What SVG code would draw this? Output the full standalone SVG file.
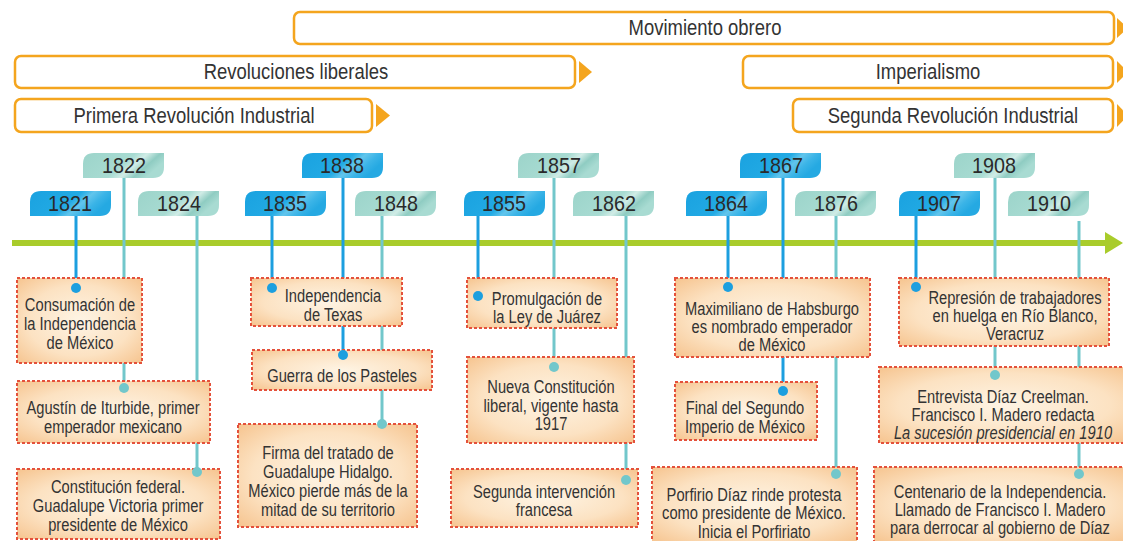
<svg xmlns="http://www.w3.org/2000/svg" width="1123" height="541" viewBox="0 0 1123 541">
<defs>
<style>
text{font-family:"Liberation Sans",Arial,sans-serif;fill:#333;text-anchor:middle;transform-box:fill-box;transform-origin:center;transform:scaleX(0.84)}
.bar{fill:#fff;stroke:#F4A51E;stroke-width:2.5}
.barr{fill:#F4A51E}
.bt{font-size:22px}
.ft{font-size:21.5px;fill:#2a2a2a;transform:scaleX(0.92)}
.tx{font-size:17.5px}
.box{fill:url(#boxg);stroke:#E4513B;stroke-width:2;stroke-dasharray:3 2}
.sb{stroke:#1C9FDF;stroke-width:3;fill:none}
.st{stroke:#72C7CB;stroke-width:3;fill:none}
.db{fill:#1C9FDF}
.dt{fill:#72C7CB}
.fb{fill:url(#gb)}
.fl{fill:url(#gt)}
</style>
<radialGradient id="boxg" cx="50%" cy="50%" r="70%">
<stop offset="0" stop-color="#FEF4E4"/>
<stop offset="0.6" stop-color="#FCE2C2"/>
<stop offset="1" stop-color="#F6C48F"/>
</radialGradient>
<linearGradient id="gb" x1="0" y1="0" x2="1" y2="0.35">
<stop offset="0" stop-color="#1AA2E0"/>
<stop offset="0.58" stop-color="#22AAE4"/>
<stop offset="0.72" stop-color="#62C5EC"/>
<stop offset="0.86" stop-color="#3BB4E7"/>
<stop offset="1" stop-color="#25A9E2"/>
</linearGradient>
<linearGradient id="gt" x1="0" y1="0" x2="1" y2="0.35">
<stop offset="0" stop-color="#9CD4CA"/>
<stop offset="0.58" stop-color="#A8DBD2"/>
<stop offset="0.72" stop-color="#D0ECE6"/>
<stop offset="0.86" stop-color="#8FCCC2"/>
<stop offset="1" stop-color="#A8DBD2"/>
</linearGradient>
<path id="flag" d="M11 0H81V14Q81 25 70 25H0V11Q0 0 11 0Z"/>
</defs>

<g id="periods">
<g id="p-movimiento">
<rect class="bar" x="294" y="12" width="820" height="32" rx="6"/>
<polygon class="barr" points="1117,18 1128,28 1117,38"/>
<text class="bt" x="705" y="35">Movimiento obrero</text>
</g>
<g id="p-revoluciones">
<rect class="bar" x="15" y="56" width="560" height="32" rx="6"/>
<polygon class="barr" points="579,61 592,72 579,83"/>
<text class="bt" x="296" y="79">Revoluciones liberales</text>
</g>
<g id="p-imperialismo">
<rect class="bar" x="743" y="56" width="370" height="32" rx="6"/>
<polygon class="barr" points="1117,61 1128,72 1117,83"/>
<text class="bt" x="928" y="79">Imperialismo</text>
</g>
<g id="p-primera">
<rect class="bar" x="15" y="99" width="357" height="33" rx="6"/>
<polygon class="barr" points="376,104 390,115.5 376,127"/>
<text class="bt" x="194" y="123">Primera Revolución Industrial</text>
</g>
<g id="p-segunda">
<rect class="bar" x="793" y="99" width="320" height="33" rx="6"/>
<polygon class="barr" points="1117,104 1128,115.5 1117,127"/>
<text class="bt" x="953" y="123">Segunda Revolución Industrial</text>
</g>
</g>

<g id="timeline">
<line x1="12" y1="243" x2="1108" y2="243" stroke="#A9CC2B" stroke-width="6"/>
<polygon points="1105,232 1123,243 1105,254" fill="#A9CC2B"/>
</g>

<g id="connectors">
<line class="sb" x1="76" y1="216" x2="76" y2="288"/>
<line class="st" x1="124" y1="178" x2="124" y2="388"/>
<line class="st" x1="197" y1="216" x2="197" y2="472"/>
<line class="sb" x1="272" y1="216" x2="272" y2="288"/>
<line class="sb" x1="343" y1="178" x2="343" y2="355"/>
<line class="st" x1="382" y1="216" x2="382" y2="424"/>
<line class="sb" x1="478" y1="216" x2="478" y2="296"/>
<line class="st" x1="554" y1="178" x2="554" y2="367"/>
<line class="st" x1="626" y1="216" x2="626" y2="480"/>
<line class="sb" x1="728" y1="216" x2="728" y2="287"/>
<line class="sb" x1="783" y1="178" x2="783" y2="391"/>
<line class="st" x1="836" y1="216" x2="836" y2="474"/>
<line class="sb" x1="916" y1="216" x2="916" y2="287"/>
<line class="st" x1="995" y1="178" x2="995" y2="375"/>
<line class="st" x1="1079" y1="221" x2="1079" y2="474"/>
</g>

<g id="years">
<g id="y1821"><use href="#flag" class="fb" x="30" y="191"/><text class="ft" x="70" y="211">1821</text></g>
<g id="y1822"><use href="#flag" class="fl" x="83" y="153"/><text class="ft" x="124" y="173">1822</text></g>
<g id="y1824"><use href="#flag" class="fl" x="138" y="191"/><text class="ft" x="179" y="211">1824</text></g>
<g id="y1835"><use href="#flag" class="fb" x="245" y="191"/><text class="ft" x="285" y="211">1835</text></g>
<g id="y1838"><use href="#flag" class="fb" x="302" y="153"/><text class="ft" x="342" y="173">1838</text></g>
<g id="y1848"><use href="#flag" class="fl" x="355" y="191"/><text class="ft" x="396" y="211">1848</text></g>
<g id="y1855"><use href="#flag" class="fb" x="464" y="191"/><text class="ft" x="504" y="211">1855</text></g>
<g id="y1857"><use href="#flag" class="fl" x="518" y="153"/><text class="ft" x="559" y="173">1857</text></g>
<g id="y1862"><use href="#flag" class="fl" x="573" y="191"/><text class="ft" x="614" y="211">1862</text></g>
<g id="y1864"><use href="#flag" class="fb" x="686" y="191"/><text class="ft" x="726" y="211">1864</text></g>
<g id="y1867"><use href="#flag" class="fb" x="740" y="153"/><text class="ft" x="781" y="173">1867</text></g>
<g id="y1876"><use href="#flag" class="fl" x="795" y="191"/><text class="ft" x="836" y="211">1876</text></g>
<g id="y1907"><use href="#flag" class="fb" x="899" y="191"/><text class="ft" x="939" y="211">1907</text></g>
<g id="y1908"><use href="#flag" class="fl" x="954" y="153"/><text class="ft" x="994" y="173">1908</text></g>
<g id="y1910"><use href="#flag" class="fl" x="1008" y="191"/><text class="ft" x="1049" y="211">1910</text></g>
</g>

<g id="events">
<g id="e1821"><rect class="box" x="17" y="278" width="125" height="85"/>
<text class="tx" x="80" y="311">Consumación de</text><text class="tx" x="80" y="330">la Independencia</text><text class="tx" x="80" y="349">de México</text></g>
<g id="e1822"><rect class="box" x="17" y="381" width="193" height="62"/>
<text class="tx" x="113" y="414">Agustín de Iturbide, primer</text><text class="tx" x="113" y="433">emperador mexicano</text></g>
<g id="e1824"><rect class="box" x="17" y="469" width="203" height="70"/>
<text class="tx" x="118" y="493">Constitución federal.</text><text class="tx" x="118" y="512">Guadalupe Victoria primer</text><text class="tx" x="118" y="531">presidente de México</text></g>
<g id="e1835"><rect class="box" x="251" y="278" width="151" height="48"/>
<text class="tx" x="333" y="302">Independencia</text><text class="tx" x="333" y="321">de Texas</text></g>
<g id="e1838"><rect class="box" x="252" y="350" width="180" height="40"/>
<text class="tx" x="342" y="382">Guerra de los Pasteles</text></g>
<g id="e1848"><rect class="box" x="238" y="424" width="179" height="103"/>
<text class="tx" x="328" y="459">Firma del tratado de</text><text class="tx" x="328" y="478">Guadalupe Hidalgo.</text><text class="tx" x="328" y="497">México pierde más de la</text><text class="tx" x="328" y="516">mitad de su territorio</text></g>
<g id="e1855"><rect class="box" x="467" y="278" width="150" height="50"/>
<text class="tx" x="547" y="305">Promulgación de</text><text class="tx" x="547" y="323">la Ley de Juárez</text></g>
<g id="e1857"><rect class="box" x="467" y="357" width="167" height="86"/>
<text class="tx" x="551" y="393">Nueva Constitución</text><text class="tx" x="551" y="412">liberal, vigente hasta</text><text class="tx" x="551" y="430">1917</text></g>
<g id="e1862"><rect class="box" x="451" y="469" width="187" height="58"/>
<text class="tx" x="544" y="498">Segunda intervención</text><text class="tx" x="544" y="516">francesa</text></g>
<g id="e1864"><rect class="box" x="675" y="278" width="195" height="79"/>
<text class="tx" x="772" y="315">Maximiliano de Habsburgo</text><text class="tx" x="772" y="333">es nombrado emperador</text><text class="tx" x="772" y="351">de México</text></g>
<g id="e1867"><rect class="box" x="675" y="382" width="142" height="58"/>
<text class="tx" x="745" y="414">Final del Segundo</text><text class="tx" x="745" y="433">Imperio de México</text></g>
<g id="e1876"><rect class="box" x="652" y="467" width="205" height="76"/>
<text class="tx" x="754" y="501">Porfirio Díaz rinde protesta</text><text class="tx" x="754" y="519">como presidente de México.</text><text class="tx" x="754" y="538">Inicia el Porfiriato</text></g>
<g id="e1907"><rect class="box" x="899" y="278" width="210" height="68"/>
<text class="tx" x="1015" y="304">Represión de trabajadores</text><text class="tx" x="1015" y="322">en huelga en Río Blanco,</text><text class="tx" x="1015" y="340">Veracruz</text></g>
<g id="e1908"><rect class="box" x="879" y="367" width="252" height="76"/>
<text class="tx" x="1003" y="403">Entrevista Díaz Creelman.</text><text class="tx" x="1003" y="421">Francisco I. Madero redacta</text><text class="tx" x="1003" y="439" font-style="italic">La sucesión presidencial en 1910</text></g>
<g id="e1910"><rect class="box" x="874" y="467" width="257" height="76"/>
<text class="tx" x="1000" y="498">Centenario de la Independencia.</text><text class="tx" x="1000" y="516">Llamado de Francisco I. Madero</text><text class="tx" x="1000" y="534">para derrocar al gobierno de Díaz</text></g>
</g>

<g id="connector-ends">
<circle class="db" cx="76" cy="288" r="5"/>
<circle class="dt" cx="124" cy="388" r="5"/>
<circle class="dt" cx="197" cy="472" r="5"/>
<circle class="db" cx="272" cy="288" r="5"/>
<circle class="db" cx="343" cy="355" r="5"/>
<circle class="dt" cx="382" cy="424" r="5"/>
<circle class="db" cx="478" cy="296" r="5"/>
<circle class="dt" cx="554" cy="367" r="5"/>
<circle class="dt" cx="626" cy="480" r="5"/>
<circle class="db" cx="728" cy="287" r="5"/>
<circle class="db" cx="783" cy="391" r="5"/>
<circle class="dt" cx="836" cy="474" r="5"/>
<circle class="db" cx="916" cy="287" r="5"/>
<circle class="dt" cx="995" cy="375" r="5"/>
<circle class="dt" cx="1079" cy="474" r="5"/>
</g>
</svg>
